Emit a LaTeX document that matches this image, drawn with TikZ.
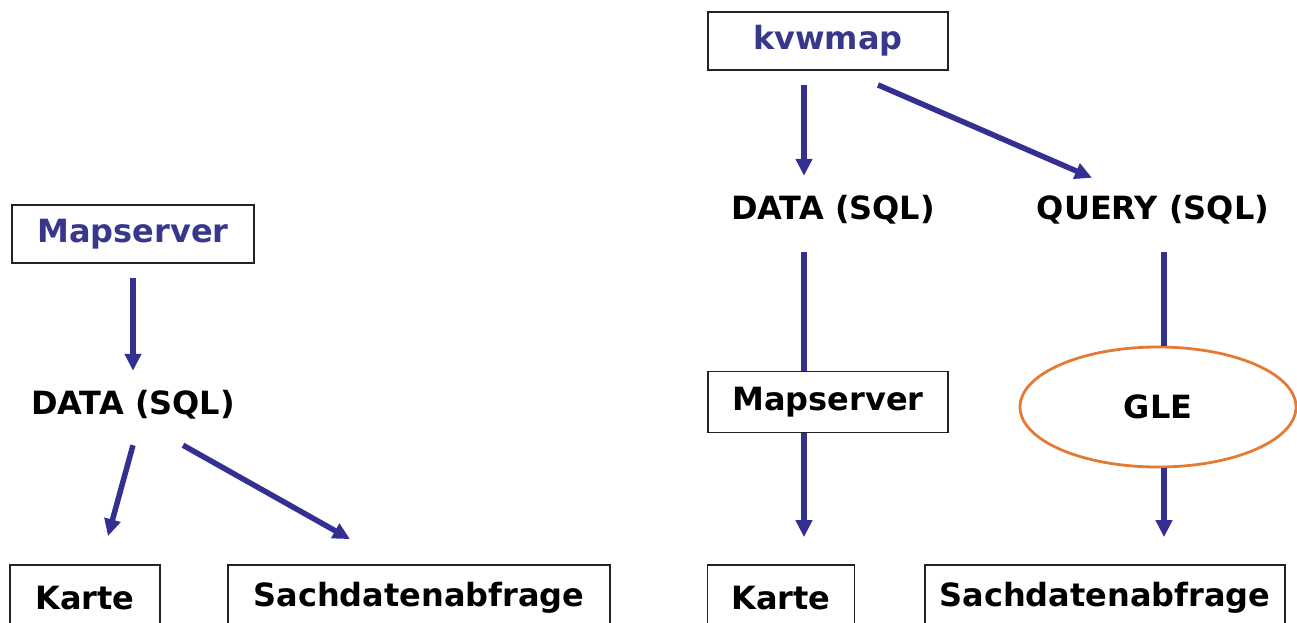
\documentclass[tikz,border=0pt]{standalone}
\usepackage{fontspec}
\setmainfont{DejaVu Sans}
\usepackage{xcolor}
\definecolor{FlowBlue}{RGB}{52,48,145}
\definecolor{TitleBlue}{RGB}{55,55,140}
\definecolor{BoxBorder}{RGB}{35,35,35}
\definecolor{OvalOrange}{RGB}{228,122,52}
\usepackage{tikz}
\usetikzlibrary{
  positioning,
  arrows.meta,
  shapes.geometric
}
\tikzset{
  % Framed box
  box/.style={
    draw=BoxBorder,
    line width=1.8pt,
    inner sep=0pt,
    font=\fontsize{32}{38}\selectfont\bfseries
  },
  % Plain label without frame
  lbl/.style={
    inner sep=0pt,
    minimum height=68pt,
    font=\fontsize{32}{38}\selectfont\bfseries
  },
  % Ellipse
  oval/.style={
    ellipse,
    draw=OvalOrange,
    line width=2.8pt,
    inner sep=0pt,
    font=\fontsize{32}{38}\selectfont\bfseries
  },
  % Directed connector
  flow/.style={
    draw=FlowBlue,
    line width=5.5pt,
    -{Triangle[width=16pt,length=17pt]}
  },
  % Connector without tip
  link/.style={
    draw=FlowBlue,
    line width=5.5pt
  }
}
\begin{document}
\begin{tikzpicture}[x=1pt,y=-1pt]
  \clip (0,0) rectangle (1297,622);

  % left: Mapserver
  \node[box, minimum width=242pt, minimum height=58pt, text=TitleBlue] (ms1) at (133,234) {Mapserver};
  \node[lbl] (data1) at (133,405) {DATA (SQL)};
  \node[box, minimum width=150pt, minimum height=66pt] (karte1) at (85,598) {Karte};
  \node[box, minimum width=382pt, minimum height=66pt] (sach1) at (419,598) {Sachdatenabfrage};
  \draw[flow, shorten <=14pt] (ms1.south) -- (data1.north);
  \draw[flow] ([yshift=-6pt]data1.south) -- ([xshift=23pt,yshift=28pt]karte1.north);
  \draw[flow] ([xshift=50pt,yshift=-6pt]data1.south) -- ([xshift=-69pt,yshift=25pt]sach1.north);

  % right: kvwmap
  \node[box, minimum width=240pt, minimum height=58pt, text=TitleBlue] (kvw) at (828,41) {kvwmap};
  \node[lbl] (data2) at (833,210) {DATA (SQL)};
  \node[lbl] (query) at (1153,210) {QUERY (SQL)};
  \node[box, minimum width=240pt, minimum height=61pt] (ms2) at (828,402) {Mapserver};
  \node[oval, minimum width=276pt, minimum height=120pt] (gle) at (1158,407) {GLE};
  \node[box, minimum width=147pt, minimum height=66pt] (karte2) at (781,598) {Karte};
  \node[box, minimum width=360pt, minimum height=66pt] (sach2) at (1105,598) {Sachdatenabfrage};
  \draw[flow, shorten <=14pt] ([xshift=-24pt]kvw.south) -- ([xshift=-29pt]data2.north);
  \draw[flow] ([xshift=50pt,yshift=-14pt]kvw.south) -- ([xshift=-61pt,yshift=-2pt]query.north);
  \draw[link, shorten <=8pt] ([xshift=-29pt]data2.south) -- ([xshift=-24pt]ms2.north);
  \draw[flow, shorten >=27pt] ([xshift=-24pt]ms2.south) -- ([xshift=23pt]karte2.north);
  \draw[link, shorten <=8pt] ([xshift=11pt]query.south) -- ([xshift=6pt]gle.north);
  \draw[flow, shorten >=27pt] ([xshift=6pt]gle.south) -- ([xshift=59pt]sach2.north);
\end{tikzpicture}
\end{document}
